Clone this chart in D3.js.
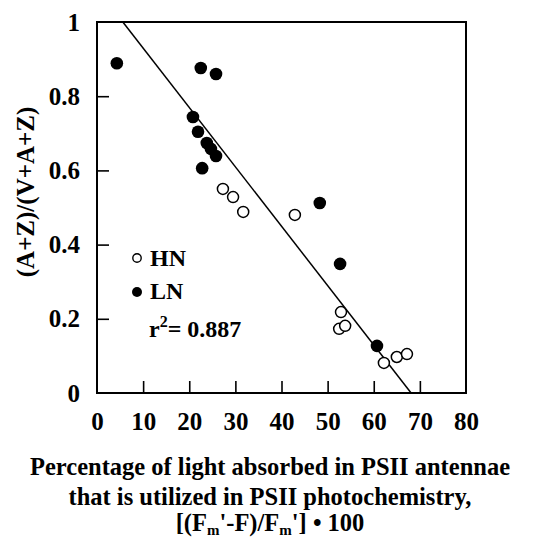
<!DOCTYPE html>
<meta charset="utf-8">
<style>
    body { margin: 0; background: #fff; }
    text { font-family: "Liberation Serif", "Times New Roman", serif; font-weight: bold; fill: #000; }
    .tick text { font-size: 25px; }
</style>
<script src="https://d3js.org/d3.v7.min.js"></script>
<div id="chart"></div>
<script>
// HN = open circles, LN = filled circles
var hnX = [27.3, 29.5, 31.7, 42.9, 52.9, 52.5, 53.8, 62.2, 65.0, 67.2];
var hnY = [0.550, 0.528, 0.488, 0.480, 0.218, 0.173, 0.181, 0.081, 0.097, 0.105];
var lnX = [4.3, 22.5, 25.8, 20.8, 21.9, 23.8, 24.7, 25.8, 22.8, 48.3, 52.7, 60.7];
var lnY = [0.889, 0.876, 0.860, 0.744, 0.704, 0.674, 0.658, 0.639, 0.606, 0.512, 0.348, 0.127];
// regression line end points
var fitX = [5.6, 68.1];
var fitY = [1.0, 0.0];
var xTicks = [0, 10, 20, 30, 40, 50, 60, 70, 80];
var yTicks = [0, 0.2, 0.4, 0.6, 0.8, 1];

var width = 540, height = 537;
var pLeft = 97, pRight = 466, pTop = 22, pBottom = 393;

var svg = d3.select("#chart").append("svg")
    .attr("width", width)
    .attr("height", height);

var x = d3.scaleLinear().domain([0, 80]).range([pLeft, pRight]);
var y = d3.scaleLinear().domain([0, 1]).range([pBottom, pTop]);

// frame
svg.append("rect")
    .attr("x", pLeft).attr("y", pTop)
    .attr("width", pRight - pLeft).attr("height", pBottom - pTop)
    .attr("fill", "none").attr("stroke", "#000").attr("stroke-width", 2);

// axes: labels outside, tick marks pointing into the plot
var xAxis = svg.append("g")
    .attr("transform", "translate(0," + pBottom + ")")
    .call(d3.axisBottom(x).tickValues(xTicks).tickSize(-12).tickPadding(19).tickFormat(d3.format("d")));
xAxis.select(".domain").remove();

var yAxis = svg.append("g")
    .attr("transform", "translate(" + pLeft + ",0)")
    .call(d3.axisLeft(y).tickValues(yTicks).tickSize(-12).tickPadding(17)
        .tickFormat(function (d) { return d === 0 || d === 1 ? d : d3.format(".1f")(d); }));
yAxis.select(".domain").remove();

// no marks at the frame corners
svg.selectAll(".tick line")
    .attr("stroke", "#000")
    .attr("stroke-width", 1.6)
    .style("display", function (d) { return d === 0 || d === 80 || d === 1 ? "none" : null; });

// fit line
svg.append("line")
    .attr("x1", x(fitX[0])).attr("y1", y(fitY[0]))
    .attr("x2", x(fitX[1])).attr("y2", y(fitY[1]))
    .attr("stroke", "#000").attr("stroke-width", 1.5);

var hn = d3.zip(hnX, hnY), ln = d3.zip(lnX, lnY);

svg.append("g").selectAll("circle")
    .data(hn).enter().append("circle")
    .attr("cx", function (d) { return x(d[0]); })
    .attr("cy", function (d) { return y(d[1]); })
    .attr("r", 5.5)
    .attr("fill", "#fff").attr("stroke", "#000").attr("stroke-width", 1.5);

svg.append("g").selectAll("circle")
    .data(ln).enter().append("circle")
    .attr("cx", function (d) { return x(d[0]); })
    .attr("cy", function (d) { return y(d[1]); })
    .attr("r", 6.3)
    .attr("fill", "#000");

// legend
var leg = svg.append("g");
leg.append("circle").attr("cx", 137).attr("cy", 258).attr("r", 4.2)
    .attr("fill", "#fff").attr("stroke", "#000").attr("stroke-width", 1.4);
leg.append("text").attr("x", 150).attr("y", 266).style("font-size", "24px").text("HN");
leg.append("circle").attr("cx", 137).attr("cy", 292).attr("r", 5).attr("fill", "#000");
leg.append("text").attr("x", 150).attr("y", 299).style("font-size", "24px").text("LN");
var r2 = leg.append("text").attr("x", 149).attr("y", 337).style("font-size", "24px");
r2.append("tspan").text("r");
r2.append("tspan").attr("dy", -10).style("font-size", "16px").text("2");
r2.append("tspan").attr("dy", 10).text("= 0.887");

// y title
svg.append("text")
    .attr("transform", "translate(34,192) rotate(-90)")
    .attr("text-anchor", "middle")
    .style("font-size", "25px")
    .text("(A+Z)/(V+A+Z)");

// x title
var tx = 270;
svg.append("text").attr("x", tx).attr("y", 475).attr("text-anchor", "middle")
    .style("font-size", "24.5px").text("Percentage of light absorbed in PSII antennae");
svg.append("text").attr("x", tx).attr("y", 505).attr("text-anchor", "middle")
    .style("font-size", "24.5px").text("that is utilized in PSII photochemistry,");
var l3 = svg.append("text").attr("x", tx).attr("y", 531).attr("text-anchor", "middle")
    .style("font-size", "24.5px");
l3.append("tspan").text("[(F");
l3.append("tspan").attr("dy", 4).style("font-size", "15px").text("m");
l3.append("tspan").attr("dy", -4).text("'-F)/F");
l3.append("tspan").attr("dy", 4).style("font-size", "15px").text("m");
l3.append("tspan").attr("dy", -4).text("'] \u2022 100");
</script>
